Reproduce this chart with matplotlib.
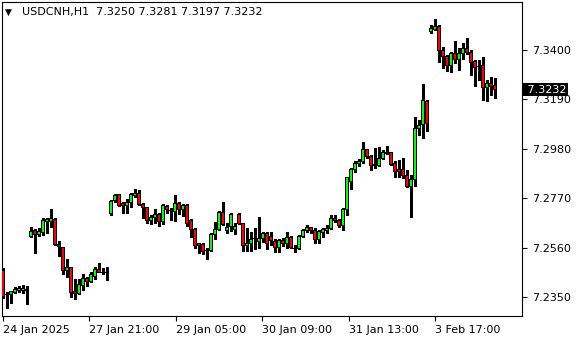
import matplotlib
matplotlib.use("Agg")
import matplotlib.pyplot as plt
import matplotlib.transforms as mtransforms
import numpy as np

symbol = "USDCNH,H1"

opens = [7.2461, 7.2359, 7.2359, 7.2371, 7.2376, 7.2377, 7.2381, 7.2606, 7.2632, 7.2616,
         7.2625, 7.2670, 7.2670, 7.2680, 7.2574, 7.2561, 7.2461, 7.2476, 7.2374, 7.2366,
         7.2400, 7.2428, 7.2417, 7.2436, 7.2468, 7.2456, 7.2456, 7.2703, 7.2759, 7.2784,
         7.2748, 7.2737, 7.2753, 7.2781, 7.2791, 7.2744, 7.2731, 7.2677, 7.2689, 7.2699,
         7.2673, 7.2734, 7.2717, 7.2713, 7.2748, 7.2720, 7.2741, 7.2674, 7.2638, 7.2578,
         7.2574, 7.2547, 7.2547, 7.2616, 7.2638, 7.2710, 7.2632, 7.2649, 7.2635, 7.2701,
         7.2663, 7.2568, 7.2578, 7.2597, 7.2585, 7.2599, 7.2618, 7.2609, 7.2585, 7.2561,
         7.2591, 7.2577, 7.2604, 7.2557, 7.2557, 7.2609, 7.2632, 7.2645, 7.2632, 7.2595,
         7.2623, 7.2632, 7.2642, 7.2685, 7.2677, 7.2656, 7.2724, 7.2840, 7.2890, 7.2918,
         7.2928, 7.2975, 7.2946, 7.2914, 7.2911, 7.2939, 7.2961, 7.2963, 7.2918, 7.2890,
         7.2890, 7.2866, 7.2819, 7.2850, 7.3067, 7.3084, 7.3183, 7.3478, 7.3489, 7.3502,
         7.3400, 7.3374, 7.3333, 7.3386, 7.3360, 7.3386, 7.3407, 7.3390, 7.3350, 7.3329,
         7.3333, 7.3241, 7.3258, 7.3250]
highs = [7.2473, 7.2373, 7.2376, 7.2391, 7.2397, 7.2401, 7.2397, 7.2646, 7.2638, 7.2642,
         7.2687, 7.2685, 7.2724, 7.2685, 7.2588, 7.2564, 7.2512, 7.2479, 7.2427, 7.2427,
         7.2448, 7.2436, 7.2455, 7.2476, 7.2493, 7.2472, 7.2478, 7.2762, 7.2788, 7.2787,
         7.2755, 7.2765, 7.2793, 7.2808, 7.2805, 7.2748, 7.2734, 7.2699, 7.2724, 7.2706,
         7.2745, 7.2741, 7.2730, 7.2784, 7.2755, 7.2745, 7.2744, 7.2680, 7.2642, 7.2581,
         7.2578, 7.2557, 7.2621, 7.2670, 7.2716, 7.2755, 7.2663, 7.2708, 7.2663, 7.2706,
         7.2666, 7.2642, 7.2628, 7.2645, 7.2692, 7.2628, 7.2628, 7.2628, 7.2595, 7.2595,
         7.2599, 7.2628, 7.2609, 7.2571, 7.2614, 7.2638, 7.2656, 7.2649, 7.2642, 7.2635,
         7.2642, 7.2656, 7.2699, 7.2699, 7.2682, 7.2727, 7.2861, 7.2897, 7.2928, 7.2937,
         7.3008, 7.2979, 7.2954, 7.2982, 7.2989, 7.2975, 7.2992, 7.2966, 7.2928, 7.2932,
         7.2939, 7.2890, 7.2869, 7.3116, 7.3102, 7.3255, 7.3187, 7.3506, 7.3532, 7.3506,
         7.3411, 7.3379, 7.3390, 7.3438, 7.3407, 7.3428, 7.3450, 7.3400, 7.3357, 7.3357,
         7.3369, 7.3272, 7.3284, 7.3281]
lows = [7.2346, 7.2305, 7.2326, 7.2366, 7.2371, 7.2368, 7.2320, 7.2604, 7.2538, 7.2609,
        7.2614, 7.2623, 7.2646, 7.2570, 7.2524, 7.2448, 7.2436, 7.2349, 7.2342, 7.2361,
        7.2380, 7.2397, 7.2414, 7.2427, 7.2455, 7.2446, 7.2422, 7.2700, 7.2755, 7.2738,
        7.2706, 7.2708, 7.2731, 7.2776, 7.2741, 7.2685, 7.2666, 7.2660, 7.2663, 7.2652,
        7.2660, 7.2708, 7.2677, 7.2674, 7.2701, 7.2695, 7.2652, 7.2604, 7.2557, 7.2536,
        7.2533, 7.2512, 7.2544, 7.2595, 7.2635, 7.2656, 7.2621, 7.2632, 7.2618, 7.2660,
        7.2547, 7.2547, 7.2547, 7.2553, 7.2560, 7.2585, 7.2553, 7.2571, 7.2543, 7.2543,
        7.2568, 7.2557, 7.2557, 7.2540, 7.2554, 7.2606, 7.2628, 7.2623, 7.2578, 7.2578,
        7.2606, 7.2623, 7.2638, 7.2667, 7.2649, 7.2635, 7.2699, 7.2809, 7.2880, 7.2908,
        7.2918, 7.2942, 7.2890, 7.2897, 7.2908, 7.2937, 7.2956, 7.2911, 7.2861, 7.2861,
        7.2855, 7.2819, 7.2688, 7.2823, 7.3039, 7.3027, 7.3056, 7.3471, 7.3485, 7.3350,
        7.3322, 7.3312, 7.3305, 7.3343, 7.3315, 7.3360, 7.3381, 7.3294, 7.3247, 7.3272,
        7.3187, 7.3183, 7.3209, 7.3197]
closes = [7.2354, 7.2359, 7.2374, 7.2383, 7.2387, 7.2387, 7.2379, 7.2628, 7.2616, 7.2628,
          7.2677, 7.2680, 7.2682, 7.2574, 7.2563, 7.2461, 7.2476, 7.2368, 7.2363, 7.2402,
          7.2428, 7.2417, 7.2444, 7.2465, 7.2456, 7.2456, 7.2456, 7.2758, 7.2781, 7.2741,
          7.2737, 7.2753, 7.2784, 7.2791, 7.2744, 7.2731, 7.2677, 7.2689, 7.2699, 7.2673,
          7.2737, 7.2720, 7.2717, 7.2748, 7.2720, 7.2741, 7.2663, 7.2638, 7.2568, 7.2568,
          7.2543, 7.2547, 7.2616, 7.2638, 7.2710, 7.2659, 7.2645, 7.2699, 7.2649, 7.2663,
          7.2568, 7.2578, 7.2595, 7.2597, 7.2599, 7.2618, 7.2578, 7.2591, 7.2561, 7.2591,
          7.2577, 7.2604, 7.2561, 7.2557, 7.2609, 7.2632, 7.2646, 7.2632, 7.2595, 7.2628,
          7.2635, 7.2642, 7.2685, 7.2674, 7.2656, 7.2724, 7.2859, 7.2890, 7.2918, 7.2928,
          7.2975, 7.2946, 7.2911, 7.2908, 7.2939, 7.2965, 7.2963, 7.2915, 7.2883, 7.2883,
          7.2866, 7.2819, 7.2850, 7.3067, 7.3081, 7.3186, 7.3087, 7.3492, 7.3502, 7.3399,
          7.3371, 7.3333, 7.3386, 7.3360, 7.3386, 7.3407, 7.3388, 7.3347, 7.3326, 7.3329,
          7.3241, 7.3258, 7.3244, 7.3232]

time_ticks = [0, 21.5, 43.25, 64.75, 86.5, 108]
time_labels = ["24 Jan 2025", "27 Jan 21:00", "29 Jan 05:00", "30 Jan 09:00",
               "31 Jan 13:00", "3 Feb 17:00"]
price_ticks = [7.2350, 7.2560, 7.2770, 7.2980, 7.3190, 7.3400]

o = np.array(opens)
h = np.array(highs)
l = np.array(lows)
c = np.array(closes)
x = np.arange(len(o))

fig = plt.figure(figsize=(5.8, 3.4), dpi=100)
ax = fig.add_axes([2/580, 24/340, 520/580, 314/340])

ylo, yhi = 7.22692, 7.36042
px = (yhi - ylo) / 314.0   # one pixel in price units

# wicks
ax.vlines(x, l, h, color="black", linewidth=1.0, zorder=2, antialiased=False)
# black body outline, then coloured core
bot = np.minimum(o, c)
top = np.maximum(o, c)
ax.bar(x, top - bot + px, bottom=bot - px / 2, width=0.8, color="black",
       linewidth=0, zorder=3, antialiased=False)
core_h = np.maximum(top - bot - px, 0)
cols = ["#00ff00" if cc >= oo else "#ff0000" for oo, cc in zip(opens, closes)]
ax.bar(x, core_h, bottom=bot + px / 2, width=0.3, color=cols,
       linewidth=0, zorder=4, antialiased=False)

ax.set_xlim(-0.25, 129.75)
ax.set_ylim(ylo, yhi)

for s in ax.spines.values():
    s.set_linewidth(0.8)

ax.yaxis.tick_right()
ax.set_yticks(price_ticks)
ax.set_yticklabels(["%.4f" % p for p in price_ticks])
ax.set_xticks(time_ticks)
ax.set_xticklabels(time_labels)
for lab in ax.get_xticklabels():
    lab.set_horizontalalignment("left")
ax.tick_params(axis="both", direction="out", length=3.5, width=0.8, labelsize=8, colors="black")
ax.tick_params(axis="y", pad=4)
ax.tick_params(axis="x", pad=3)

# current price box
tr = mtransforms.blended_transform_factory(ax.transAxes, ax.transData)
ax.text(1.004, closes[-1], " %.4f" % closes[-1], transform=tr, ha="left", va="center",
        fontsize=8, color="white", zorder=10, clip_on=False,
        bbox=dict(boxstyle="square,pad=0.12", fc="black", ec="none"))

fig.text(5/580, 1 - 12/340, "▼", fontsize=6.5, va="center", ha="left")
fig.text(22/580, 1 - 12/340, "%s  %.4f %.4f %.4f %.4f" % (symbol, opens[-1], highs[-1], lows[-1], closes[-1]),
         fontsize=8, va="center", ha="left")

fig.savefig("out.png", dpi=100)
